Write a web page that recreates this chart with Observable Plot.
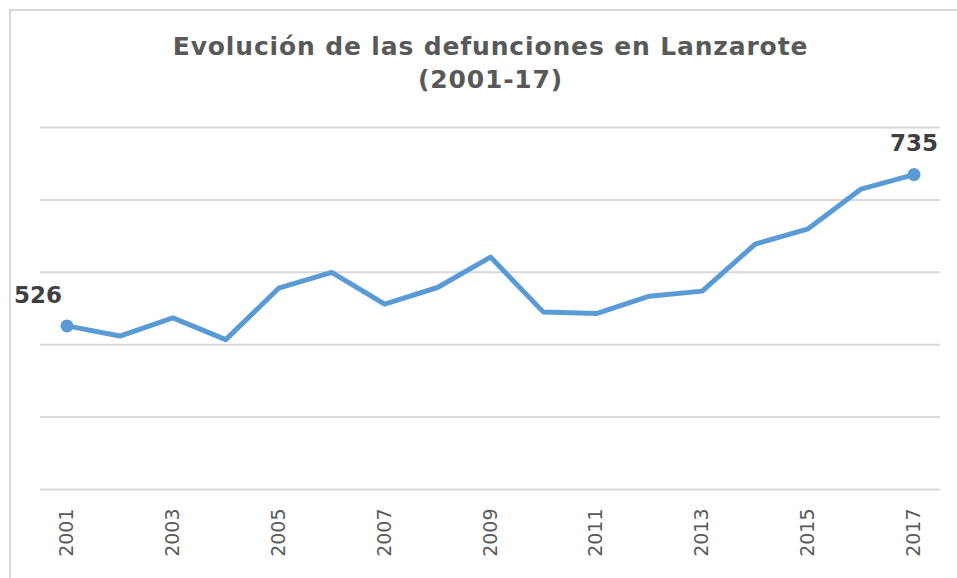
<!DOCTYPE html>
<html>
<head>
<meta charset="utf-8">
<script src="https://cdn.jsdelivr.net/npm/d3@7"></script>
<script src="https://cdn.jsdelivr.net/npm/@observablehq/plot@0.6"></script>
<style>
  html, body { margin: 0; padding: 0; background: #fff; width: 957px; height: 578px; overflow: hidden; }
  #frame { position: absolute; left: 9px; top: 9px; width: 980px; height: 620px;
           border-left: 2px solid #d9d9d9; border-top: 2px solid #d9d9d9; }
  #title { position: absolute; left: 0; top: 30px; width: 981px; text-align: center;
           font-family: "DejaVu Sans", Verdana, sans-serif; font-weight: bold; font-size: 25px;
           letter-spacing: 0.85px; line-height: 33px; color: #595959; }
  #chart { position: absolute; left: 0; top: 110px; }
</style>
</head>
<body>
<div id="frame"></div>
<div id="title">Evolución de las defunciones en Lanzarote<br>(2001-17)</div>
<div id="chart"></div>
<script>
const years = [2001, 2002, 2003, 2004, 2005, 2006, 2007, 2008, 2009, 2010, 2011, 2012, 2013, 2014, 2015, 2016, 2017];
const deaths = [526, 512, 537, 507, 578, 600, 556, 579, 621, 545, 543, 567, 574, 639, 660, 715, 735];
const tickYears = [2001, 2003, 2005, 2007, 2009, 2011, 2013, 2015, 2017];
const gridValues = [300, 400, 500, 600, 700, 800];

const data = years.map((y, i) => ({year: y, value: deaths[i]}));
const first = [data[0]];
const last = [data[data.length - 1]];

const chart = Plot.plot({
  width: 957,
  height: 468,
  marginTop: 17,
  marginBottom: 89,
  marginLeft: 40,
  marginRight: 17,
  style: { fontFamily: "DejaVu Sans, Verdana, sans-serif", fontSize: "16px", background: "transparent" },
  x: { domain: [2000.5, 2017.5], axis: null },
  y: { domain: [300, 800], axis: null },
  marks: [
    Plot.ruleY(gridValues, { stroke: "#d9d9d9", strokeWidth: 2 }),
    Plot.text(tickYears, { x: d => d, y: () => 300, text: d => String(d), rotate: -90,
                           textAnchor: "end", dy: 19, fontSize: 19, fill: "#595959" }),
    Plot.line(data, { x: "year", y: "value", stroke: "#5b9bd5", strokeWidth: 5, strokeLinejoin: "round", strokeLinecap: "round" }),
    Plot.dot(first.concat(last), { x: "year", y: "value", r: 6.5, fill: "#5b9bd5", stroke: "none" }),
    Plot.text(first, { x: "year", y: "value", text: d => String(d.value), dx: -29, dy: -30,
                       fontSize: 23, fontWeight: "bold", fill: "#404040" }),
    Plot.text(last, { x: "year", y: "value", text: d => String(d.value), dx: 0, dy: -31,
                      fontSize: 23, fontWeight: "bold", fill: "#404040" })
  ]
});
document.getElementById("chart").appendChild(chart);
</script>
</body>
</html>
